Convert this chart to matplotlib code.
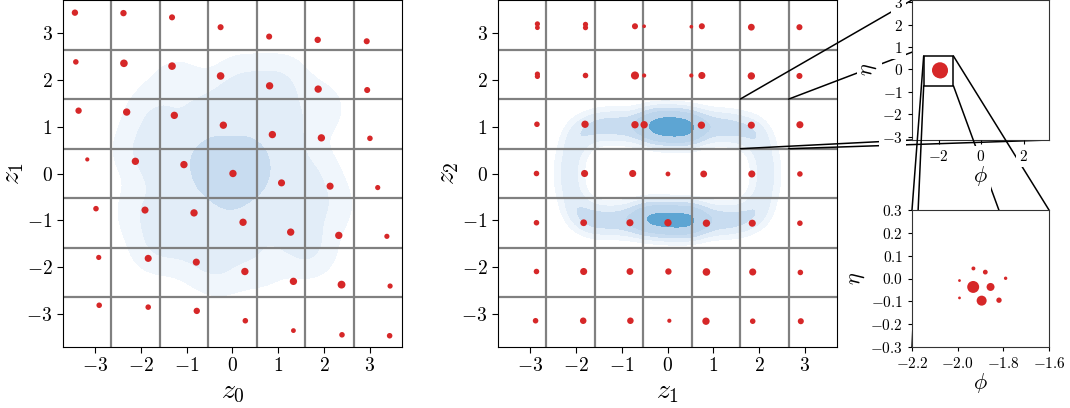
import numpy as np
import matplotlib
matplotlib.use('Agg')
import matplotlib.pyplot as plt
from matplotlib.patches import Rectangle, ConnectionPatch

plt.rcParams['font.family'] = 'serif'
plt.rcParams['font.serif'] = ['cmr10']
plt.rcParams['mathtext.fontset'] = 'cm'
plt.rcParams['axes.formatter.use_mathtext'] = True

RED = '#d62728'
GRID = '#808080'
LIM = 3.7
N_CELLS = 7
KDE_COLORS = ['#f0f6fc', '#e2edf8', '#c8dcf0', '#bcd5ec', '#5da5d3']

# ---- panel 1: decoded jets on the (z0, z1) grid ----
p1_x = [-3.44, -2.38, -1.32, -0.26, 0.80, 1.86, 2.93,
        -3.42, -2.37, -1.32, -0.26, 0.81, 1.87, 2.94,
        -3.36, -2.31, -1.27, -0.20, 0.87, 1.94, 3.00,
        -3.17, -2.12, -1.06, 0.01, 1.07, 2.13, 3.17,
        -2.98, -1.91, -0.84, 0.23, 1.27, 2.32, 3.37,
        -2.92, -1.84, -0.79, 0.27, 1.33, 2.38, 3.44,
        -2.91, -1.84, -0.78, 0.28, 1.33, 2.39, 3.43]
p1_y = [3.43, 3.42, 3.33, 3.12, 2.92, 2.85, 2.82,
        2.38, 2.35, 2.29, 2.08, 1.87, 1.80, 1.78,
        1.34, 1.31, 1.24, 1.03, 0.83, 0.76, 0.75,
        0.30, 0.26, 0.19, 0.00, -0.20, -0.27, -0.30,
        -0.75, -0.78, -0.84, -1.04, -1.25, -1.32, -1.34,
        -1.79, -1.81, -1.89, -2.09, -2.30, -2.37, -2.40,
        -2.81, -2.85, -2.93, -3.14, -3.35, -3.44, -3.46]
p1_s = [21, 21, 19, 19, 19, 21, 19,
        16, 30, 30, 30, 28, 28, 19,
        21, 28, 28, 28, 28, 28, 16,
        9, 28, 28, 28, 26, 26, 14,
        16, 26, 28, 28, 28, 28, 14,
        14, 26, 26, 28, 28, 32, 14,
        16, 16, 21, 16, 12, 16, 16]

# latent samples behind the density of panel 1
p1_kde_x = [0.0, -0.4, 0.3, -0.2, 0.5, -0.7, 0.1, -0.5, 0.6, -0.3, 0.3, -0.9,
            1.0, -1.1, 0.9, -0.6, 0.5, 1.3, -1.4, 1.2, -1.3, 0.0, -0.2, 1.5, -1.6, 0.8,
            -1.8, 1.8, -0.8, 0.6, 1.9, -2.0, 1.7, -1.2, 0.2, 2.1, -1.7, 1.1, -0.3, -2.1]
p1_kde_y = [0.0, 0.2, 0.3, -0.4, -0.2, -0.2, 0.6, 0.6, 0.5, -0.8, -0.7, 0.3,
            0.1, -0.6, -0.9, 1.1, 1.2, 0.8, 0.7, -0.5, -1.2, -1.3, 1.5, -1.3, 0.0, 1.6,
            1.3, 0.0, -1.7, -1.9, 1.4, -0.8, -1.7, 1.9, 2.0, -0.7, -1.6, 2.0, -2.1, 0.5]

# ---- panel 2: decoded jets on the (z1, z2) grid ----
p2_x = [-2.84, -2.84, -1.79, -1.79, -0.71, -0.51, 0.52, 0.75, 1.83, 2.88,
        -2.84, -2.84, -1.79, -0.71, -0.51, 0.52, 0.75, 1.83, 2.88,
        -2.85, -1.80, -0.71, -0.51, 0.74, 1.83, 2.89,
        -2.86, -1.81, -0.76, 0.01, 0.79, 1.84, 2.89,
        -2.86, -1.83, -0.82, 0.01, 0.85, 1.85, 2.89,
        -2.86, -1.83, -0.82, 0.02, 0.85, 1.86, 2.90,
        -2.88, -1.84, -0.81, 0.04, 0.84, 1.86, 2.91]
p2_y = [3.19, 3.11, 3.18, 3.11, 3.14, 3.14, 3.13, 3.14, 3.12, 3.12,
        2.12, 2.07, 2.09, 2.09, 2.09, 2.09, 2.09, 2.08, 2.08,
        1.05, 1.05, 1.04, 1.04, 1.03, 1.03, 1.04,
        0.00, 0.00, 0.00, -0.01, -0.01, -0.01, -0.01,
        -1.05, -1.05, -1.05, -1.05, -1.06, -1.06, -1.06,
        -2.09, -2.09, -2.09, -2.09, -2.10, -2.10, -2.11,
        -3.14, -3.14, -3.14, -3.14, -3.15, -3.15, -3.15]
p2_s = [14, 12, 14, 14, 19, 7, 7, 19, 24, 19,
        14, 14, 16, 34, 9, 9, 26, 28, 19,
        16, 28, 28, 28, 28, 26, 26,
        16, 26, 26, 12, 24, 26, 16,
        16, 24, 26, 28, 28, 26, 16,
        16, 26, 24, 21, 30, 26, 16,
        16, 22, 22, 9, 28, 16, 19]

# latent samples behind the ring-shaped density of panel 2
p2_kde_x = [-1.6, -1.35, -1.1, -0.85, -0.6, -0.4, -0.2, 0.0, 0.2, 0.4, 0.6, 0.85,
            1.1, 1.35, 1.6,
            -0.35, -0.2, -0.05, 0.1, 0.25, 0.4, 0.55,
            -1.65, -1.4, -1.15, -0.9, -0.65, -0.4, -0.2, 0.0, 0.2, 0.4, 0.6, 0.85,
            1.1, 1.35, 1.6,
            -0.55, -0.35, -0.15, 0.05, 0.25, 0.45, 0.6,
            -2.05, -2.15, -2.15, -2.05, 2.05, 2.15, 2.15, 2.05,
            -1.9, -1.9, 1.9, 1.9]
p2_kde_y = [1.0, 1.02, 1.02, 1.0, 1.0, 1.0, 1.0, 1.0, 0.98, 0.98, 0.98, 1.0,
            1.0, 0.98, 0.95,
            1.02, 1.02, 1.0, 1.0, 0.99, 0.98, 0.97,
            -1.0, -1.0, -1.0, -1.0, -1.0, -0.98, -0.98, -1.0, -1.0, -1.0, -1.0, -1.0,
            -1.0, -1.0, -0.98,
            -0.94, -0.96, -0.98, -1.0, -1.0, -1.0, -0.98,
            0.6, 0.2, -0.2, -0.6, 0.6, 0.2, -0.2, -0.6,
            0.9, -0.9, 0.9, -0.9]

# ---- constituents of the zoomed jet (phi, eta) ----
con_phi = [-1.931, -1.879, -1.790, -1.992, -1.932, -1.856, -1.992, -1.895, -1.819]
con_eta = [0.044, 0.028, 0.001, -0.009, -0.037, -0.037, -0.085, -0.097, -0.095]
con_s = [8, 12, 6, 4, 74, 33, 4, 52, 15]


def kde(px, py, bw, n=250):
    g = np.linspace(-LIM, LIM, n)
    X, Y = np.meshgrid(g, g)
    Z = np.zeros_like(X)
    for x, y in zip(px, py):
        Z += np.exp(-((X - x) ** 2 + (Y - y) ** 2) / (2 * bw ** 2))
    return X, Y, Z / Z.max()


def latent_panel(ax, xs, ys, ss, kx, ky, bw, levels, colors, xlabel, ylabel):
    X, Y, Z = kde(kx, ky, bw)
    ax.contourf(X, Y, Z, levels=levels, colors=colors, zorder=0)
    cell = 2 * LIM / N_CELLS
    for k in range(1, N_CELLS):
        ax.axvline(-LIM + k * cell, color=GRID, lw=1.6, zorder=1)
        ax.axhline(-LIM + k * cell, color=GRID, lw=1.6, zorder=1)
    ax.scatter(xs, ys, s=ss, color=RED, linewidths=0, zorder=3)
    ax.set_xlim(-LIM, LIM)
    ax.set_ylim(-LIM, LIM)
    ax.set_xticks([-3, -2, -1, 0, 1, 2, 3])
    ax.set_yticks([-3, -2, -1, 0, 1, 2, 3])
    ax.tick_params(labelsize=14, length=4)
    ax.set_xlabel(xlabel, fontsize=20, labelpad=2)
    ax.set_ylabel(ylabel, fontsize=20, labelpad=0)


fig = plt.figure(figsize=(10.7, 4.08), dpi=100)
W, H = 1070, 408
ax1 = fig.add_axes([63 / W, 61 / H, 339 / W, 347 / H])
ax2 = fig.add_axes([498 / W, 61 / H, 339 / W, 347 / H])
ax_top = fig.add_axes([912 / W, 268 / H, 137 / W, 140 / H])
ax_bot = fig.add_axes([912 / W, 61 / H, 137 / W, 137 / H])
ax1.set_zorder(0)
ax2.set_zorder(0)
ax_top.set_zorder(2)
ax_bot.set_zorder(3)

latent_panel(ax1, p1_x, p1_y, p1_s, p1_kde_x, p1_kde_y, 0.42,
             [0.12, 0.32, 0.72, 1.01], KDE_COLORS[:3], '$z_0$', '$z_1$')
latent_panel(ax2, p2_x, p2_y, p2_s, p2_kde_x, p2_kde_y, 0.25,
             [0.09, 0.17, 0.28, 0.42, 0.74, 1.01], KDE_COLORS, '$z_1$', '$z_2$')

# whole jet in (phi, eta)
box = dict(facecolor='white', edgecolor='none', pad=2)
ax_top.scatter(con_phi, con_eta, s=[v * 1.8 for v in con_s], color=RED, linewidths=0)
ax_top.set_xlim(-3.25, 3.2)
ax_top.set_ylim(-3.15, 3.1)
ax_top.set_xticks([-2, 0, 2])
ax_top.set_yticks([-3, -2, -1, 0, 1, 2, 3])
ax_top.tick_params(labelsize=11, length=3)
ax_top.set_xlabel(r'$\phi$', fontsize=16, labelpad=0, bbox=box)
ax_top.set_ylabel(r'$\eta$', fontsize=16, labelpad=2, bbox=box)
for t in ax_top.get_xticklabels() + ax_top.get_yticklabels():
    t.set_bbox(box)
ax_top.xaxis.set_zorder(5)
ax_top.yaxis.set_zorder(5)

# zoom on the constituents
ax_bot.scatter(con_phi, con_eta, s=con_s, color=RED, linewidths=0)
ax_bot.set_xlim(-2.2, -1.6)
ax_bot.set_ylim(-0.3, 0.3)
ax_bot.set_xticks([-2.2, -2.0, -1.8, -1.6])
ax_bot.set_yticks([-0.3, -0.2, -0.1, 0.0, 0.1, 0.2, 0.3])
ax_bot.xaxis.set_major_formatter(matplotlib.ticker.FormatStrFormatter(r'$%.1f$'))
ax_bot.yaxis.set_major_formatter(matplotlib.ticker.FormatStrFormatter(r'$%.1f$'))
ax_bot.tick_params(labelsize=11, length=3)
ax_bot.set_xlabel(r'$\phi$', fontsize=16, labelpad=0)
ax_bot.set_ylabel(r'$\eta$', fontsize=16, labelpad=2)

for ax in (ax_top, ax_bot):
    for sp in ax.spines.values():
        sp.set_color('#333333')

# connectors: selected latent cell -> whole-jet inset
cell = 2 * LIM / N_CELLS
cx0, cx1 = -LIM + 5 * cell, -LIM + 6 * cell
cy0, cy1 = -LIM + 4 * cell, -LIM + 5 * cell
for (xa, ya), xyb in [((cx0, cy1), (0, 1)), ((cx1, cy1), (1, 1)),
                      ((cx0, cy0), (0, 0)), ((cx1, cy0), (1, 0))]:
    con = ConnectionPatch(xyA=(xa, ya), coordsA=ax2.transData,
                          xyB=xyb, coordsB=ax_top.transAxes,
                          color='black', lw=1.1)
    con.set_zorder(1)
    fig.add_artist(con)

# zoom box inside the whole-jet inset -> constituent inset
rx0, rx1, ry0, ry1 = -2.7, -1.3, -0.73, 0.6
ax_top.add_patch(Rectangle((rx0, ry0), rx1 - rx0, ry1 - ry0, fill=False,
                           edgecolor='black', lw=1.1))
for (xa, ya), xyb in [((rx0, ry1), (0, 1)), ((rx1, ry1), (1, 1)),
                      ((rx0, ry0), (0, 0)), ((rx1, ry0), (1, 0))]:
    con = ConnectionPatch(xyA=(xa, ya), coordsA=ax_top.transData,
                          xyB=xyb, coordsB=ax_bot.transAxes,
                          color='black', lw=1.1, zorder=3)
    ax_top.add_artist(con)
    con.set_clip_on(False)

fig.savefig('out.png', dpi=100)
